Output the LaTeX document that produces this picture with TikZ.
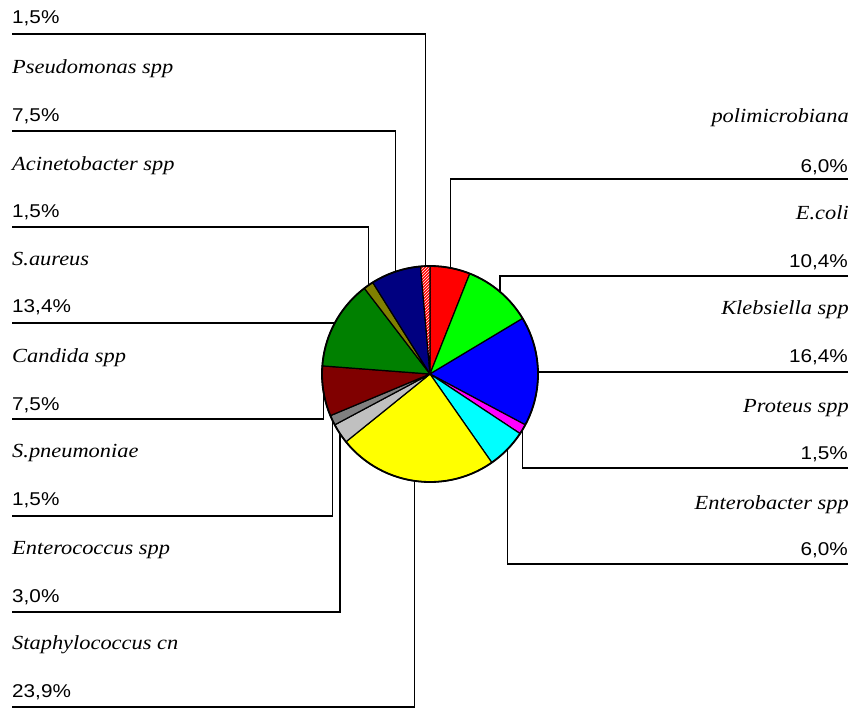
\documentclass[tikz,border=0pt]{standalone}
\usepackage{fontspec}
\setmainfont{Liberation Serif}
\newfontfamily\numfont[FakeStretch=1.12]{Liberation Sans}
\newfontfamily\namefont[FakeStretch=1.12]{Liberation Serif}
\usetikzlibrary{patterns}
\definecolor{cRed}{HTML}{FF0000}
\definecolor{cLime}{HTML}{00FF00}
\definecolor{cBlue}{HTML}{0000FF}
\definecolor{cMag}{HTML}{FF00FF}
\definecolor{cCyan}{HTML}{00FFFF}
\definecolor{cYel}{HTML}{FFFF00}
\definecolor{cSilver}{HTML}{C0C0C0}
\definecolor{cGrey}{HTML}{808080}
\definecolor{cMaroon}{HTML}{800000}
\definecolor{cGreen}{HTML}{008000}
\definecolor{cOlive}{HTML}{808000}
\definecolor{cNavy}{HTML}{000080}
\begin{document}
\begin{tikzpicture}[x=1pt,y=-1pt,
  pct/.style={font=\numfont\fontsize{18.5}{20}\selectfont, inner sep=0pt},
  nm/.style={font=\namefont\itshape\fontsize{20}{22}\selectfont, inner sep=0pt},
  leader/.style={draw=black, line width=1.3pt},
  wedge/.style={draw=black, line width=1.2pt, line join=round}]
\useasboundingbox (0,0) rectangle (853,709);

% edge points of the slices (mid angles)
\begin{scope}[shift={(430,374)}, y=1pt]
  \coordinate (c) at (0,0);
  \coordinate (e1) at (79.2:108);
  \coordinate (e2) at (49.68:108);
  \coordinate (e3) at (1.44:108);
  \coordinate (e4) at (-30.78:108);
  \coordinate (e5) at (-44.28:108);
  \coordinate (e6) at (-98.1:108);
  \coordinate (e7) at (-146.52:108);
  \coordinate (e8) at (-154.62:108);
  \coordinate (e9) at (-170.82:108);
  \coordinate (e10) at (-208.44:108);
  \coordinate (e11) at (-235.26:108);
  \coordinate (e12) at (-251.46:108);
  \coordinate (e13) at (-267.66:108);
\end{scope}

% left labels
\node[pct, anchor=base west] (t13) at (12,24) {1,5\%};
\node[nm,  anchor=base west] (n12) at (12,74) {Pseudomonas spp};
\node[pct, anchor=base west] (t12) at (12,121) {7,5\%};
\node[nm,  anchor=base west] (n11) at (12,170) {Acinetobacter spp};
\node[pct, anchor=base west] (t11) at (12,217) {1,5\%};
\node[nm,  anchor=base west] (n10) at (12,265) {S.aureus};
\node[pct, anchor=base west] (t10) at (12,312) {13,4\%};
\node[nm,  anchor=base west] (n9) at (12,362) {Candida spp};
\node[pct, anchor=base west] (t9) at (12,410) {7,5\%};
\node[nm,  anchor=base west] (n8) at (12,457) {S.pneumoniae};
\node[pct, anchor=base west] (t8) at (12,505) {1,5\%};
\node[nm,  anchor=base west] (n7) at (12,554) {Enterococcus spp};
\node[pct, anchor=base west] (t7) at (12,602) {3,0\%};
\node[nm,  anchor=base west] (n6) at (12,649) {Staphylococcus cn};
\node[pct, anchor=base west] (t6) at (12,697) {23,9\%};

% right labels
\node[nm,  anchor=base east] (n1) at (849,122) {polimicrobiana};
\node[pct, anchor=base east] (t1) at (848,172) {6,0\%};
\node[nm,  anchor=base east] (n2) at (849,219) {E.coli};
\node[pct, anchor=base east] (t2) at (848,267) {10,4\%};
\node[nm,  anchor=base east] (n3) at (849,314) {Klebsiella spp};
\node[pct, anchor=base east] (t3) at (848,362) {16,4\%};
\node[nm,  anchor=base east] (n4) at (849,412) {Proteus spp};
\node[pct, anchor=base east] (t4) at (848,459) {1,5\%};
\node[nm,  anchor=base east] (n5) at (849,509) {Enterobacter spp};
\node[pct, anchor=base east] (t5) at (848,555) {6,0\%};

% leader line ends
\coordinate (s13) at (12,34);
\coordinate (s12) at (12,131);
\coordinate (s11) at (12,227);
\coordinate (s10) at (12,323);
\coordinate (s9) at (12,419);
\coordinate (s8) at (12,516);
\coordinate (s7) at (12,612);
\coordinate (s6) at (12,707);
\coordinate (s1) at (848,179);
\coordinate (s2) at (848,276);
\coordinate (s3) at (848,372);
\coordinate (s4) at (848,468);
\coordinate (s5) at (848,564);

\foreach \i in {1,...,13} { \draw[leader] (s\i) -| (e\i); }

% pie
\begin{scope}[shift={(430,374)}, y=1pt]
  \foreach \a/\b/\col in {90/68.4/cRed, 68.4/30.96/cLime, 30.96/-28.08/cBlue,
      -28.08/-33.48/cMag, -33.48/-55.08/cCyan, -55.08/-141.12/cYel,
      -141.12/-151.92/cSilver, -151.92/-157.32/cGrey, -157.32/-184.32/cMaroon,
      -184.32/-232.56/cGreen, -232.56/-237.96/cOlive, -237.96/-264.96/cNavy} {
    \filldraw[wedge, fill=\col] (0,0) -- (\a:108) arc[start angle=\a, end angle=\b, radius=108] -- cycle;
  }
  \filldraw[wedge, preaction={fill=cRed}, pattern=north east lines, pattern color=white]
    (0,0) -- (-264.96:108) arc[start angle=-264.96, end angle=-270, radius=108] -- cycle;
  \draw[line width=1.8pt] (0,0) circle[radius=108];
\end{scope}
\end{tikzpicture}
\end{document}
